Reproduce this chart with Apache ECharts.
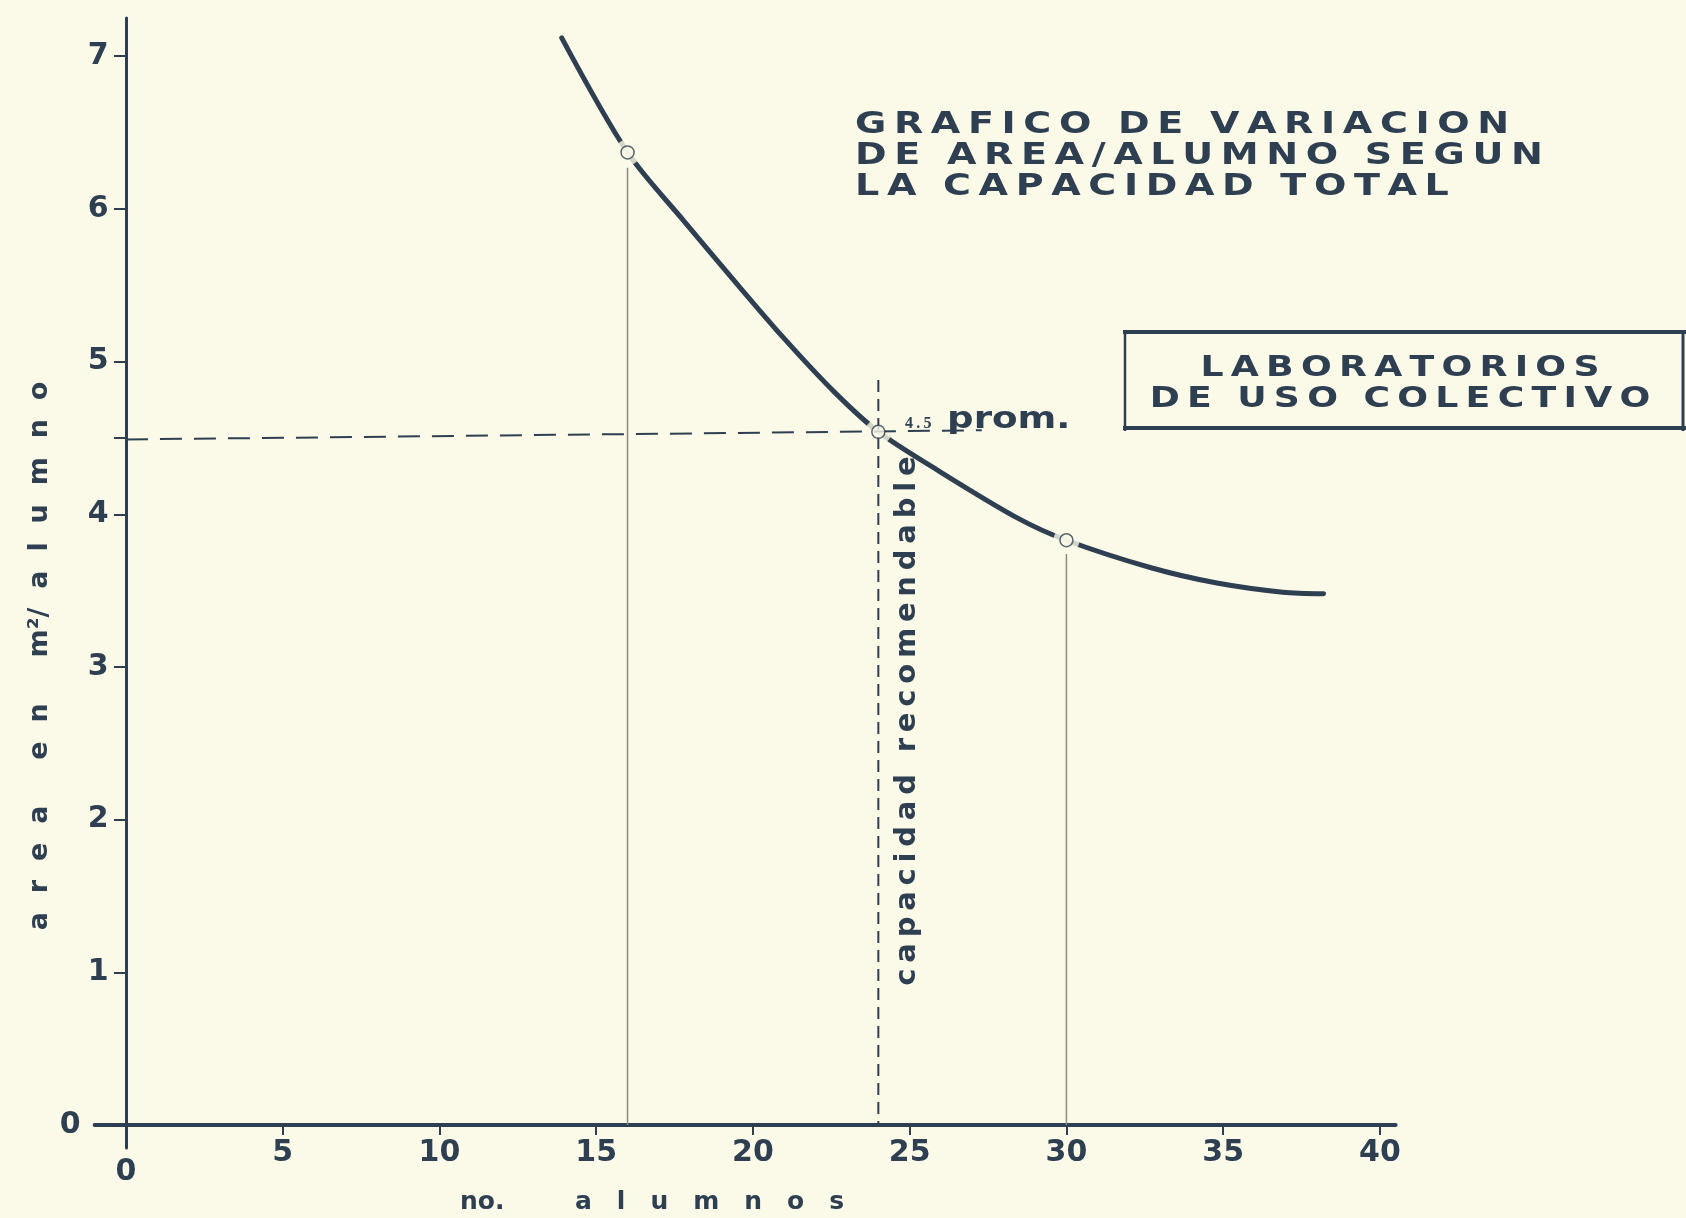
<!DOCTYPE html>
<html><head><meta charset="utf-8">
<script src="https://cdn.jsdelivr.net/npm/echarts@6/dist/echarts.min.js"></script>
<style>html,body{margin:0;padding:0;background:#fbfae9}#c{width:1686px;height:1218px}</style>
</head><body><div id="c"></div>
<script>
// ---- data ----
const curve = [[13.9,7.12],[16,6.37],[17.8,5.92],[19.4,5.53],[21,5.15],[22.6,4.8],[24,4.54],[25.8,4.3],[28.4,3.98],[30,3.83],[32.7,3.65],[34.8,3.55],[36.9,3.49],[38.2,3.48]];
const keyPoints = [[16,6.37],[24,4.54],[30,3.83]];
const vline16 = [[16,6.27],[16,0]];
const vline30 = [[30,3.74],[30,0]];
const recLine = [[24,4.88],[24,0]];
const promLine = [[0,4.49],[27.3,4.55]];
const xTicks = [0,5,10,15,20,25,30,35,40];
const yTicks = [0,1,2,3,4,5,6,7];
const yTickMarks = [0,1,2,3,4,4.5,5,6,7];
const titleLines = ['GRAFICO DE VARIACION','DE AREA/ALUMNO SEGUN','LA CAPACIDAD TOTAL'];
const boxLines = ['LABORATORIOS','DE USO COLECTIVO'];
const yNameWords = [['a','r','e','a'],['e','n'],['m²/','a','l','u','m','n','o']];
const xName1 = 'no.';
const xName2 = 'alumnos';
const recText = 'capacidad recomendable';
const promValue = '4.5';
const promText = 'prom.';

const INK = '#2e3f52';
const BG = '#fbfae9';
const FONT = '"DejaVu Sans", sans-serif';

function spaced(s, gap, wordGap){
  return s.split(' ').map(w => w.split('').join(gap)).join(wordGap);
}

const chart = echarts.init(document.getElementById('c'), null, {renderer:'canvas'});
chart.setOption({
  backgroundColor: BG,
  animation: false,
  grid: {left: 94.6, right: 290.4, top: 18, bottom: 70},
  xAxis: {
    type: 'value', min: -1, max: 40.5,
    splitLine: {show: false},
    axisLine: {onZero: true, lineStyle: {color: INK, width: 4}},
    axisTick: {customValues: xTicks, length: 10, lineStyle: {color: INK, width: 2}},
    axisLabel: {
      customValues: xTicks, margin: -10, color: INK,
      fontFamily: FONT, fontWeight: 'bold', fontSize: 30,
      formatter: v => v === 0 ? '{z|0}' : String(v),
      rich: {z: {padding: [19,0,0,0], color: INK, fontFamily: FONT, fontWeight: 'bold', fontSize: 30}}
    }
  },
  yAxis: {
    type: 'value', min: -0.15, max: 7.25,
    splitLine: {show: false},
    axisLine: {onZero: true, lineStyle: {color: INK, width: 3}},
    axisTick: {customValues: yTickMarks, length: 12, lineStyle: {color: INK, width: 2}},
    axisLabel: {
      customValues: yTicks, margin: -14, color: INK,
      fontFamily: FONT, fontWeight: 'bold', fontSize: 30,
      formatter: v => v === 0 ? '{z|0}' : String(v),
      rich: {z: {padding: [0,28,0,0], color: INK, fontFamily: FONT, fontWeight: 'bold', fontSize: 30}}
    }
  },
  series: [
    {type: 'line', data: curve, smooth: 0.3, symbol: 'none', z: 2,
     lineStyle: {color: INK, width: 5, cap: 'round'}},
    {type: 'scatter', data: keyPoints, symbolSize: 26, z: 3,
     itemStyle: {color: BG}},
    {type: 'line', data: vline16, symbol: 'none', z: 4, lineStyle: {color: '#8a8a86', width: 1.5}},
    {type: 'line', data: vline30, symbol: 'none', z: 4, lineStyle: {color: '#8a8a86', width: 1.5}},
    {type: 'line', data: recLine, symbol: 'none', z: 4, lineStyle: {color: INK, width: 2, type: [12,7]}},
    {type: 'line', data: promLine, symbol: 'none', z: 4, lineStyle: {color: INK, width: 2, type: [22,12]}},
    {type: 'scatter', data: keyPoints, symbolSize: 13, z: 6,
     itemStyle: {color: BG, borderColor: INK, borderWidth: 1.5}}
  ],
  graphic: [
    {type: 'text', x: 855, y: 110, scaleX: 1.27, z: 10,
     style: {text: titleLines.map(l => spaced(l, '\u2009', '\u2009\u2002')).join('\n'),
             font: 'bold 30px ' + FONT, fill: INK, lineHeight: 31, textVerticalAlign: 'top'}},
    {type: 'line', z: 10, shape: {x1: 1123, y1: 332, x2: 1686, y2: 332}, style: {stroke: INK, lineWidth: 4}},
    {type: 'line', z: 10, shape: {x1: 1123, y1: 428, x2: 1686, y2: 428}, style: {stroke: INK, lineWidth: 4}},
    {type: 'line', z: 10, shape: {x1: 1125, y1: 330, x2: 1125, y2: 431}, style: {stroke: INK, lineWidth: 2.5}},
    {type: 'line', z: 10, shape: {x1: 1683, y1: 330, x2: 1683, y2: 431}, style: {stroke: INK, lineWidth: 3}},
    {type: 'text', x: 1400, y: 353, scaleX: 1.25, z: 10,
     style: {text: boxLines.map(l => spaced(l, '\u2009', '\u2009\u2002')).join('\n'),
             font: 'bold 29px ' + FONT, fill: INK, lineHeight: 31, textAlign: 'center', textVerticalAlign: 'top'}},
    {type: 'text', x: 905, y: 424, z: 10,
     style: {text: spaced(promValue, '\u2009', ' '), font: 'bold 16px "Liberation Serif", serif', fill: INK, textVerticalAlign: 'middle'}},
    {type: 'text', x: 947, y: 420, scaleX: 1.2, z: 10,
     style: {text: promText, font: 'bold 31px ' + FONT, fill: INK, textVerticalAlign: 'middle'}},
    {type: 'text', x: 907, y: 721, rotation: Math.PI/2, z: 10,
     style: {text: spaced(recText, '\u2009', '\u2009 \u2009'), font: 'bold 29px ' + FONT, fill: INK,
             textAlign: 'center', textVerticalAlign: 'middle'}},
    {type: 'text', x: 40, y: 656, rotation: Math.PI/2, z: 10,
     style: {text: yNameWords.map(w => w.join('\u2002\u2009')).join('\u2002\u2009\u2003'), font: 'bold 27px ' + FONT, fill: INK,
             textAlign: 'center', textVerticalAlign: 'middle'}},
    {type: 'text', x: 460, y: 1202, z: 10,
     style: {text: xName1, font: 'bold 25px ' + FONT, fill: INK, textVerticalAlign: 'middle'}},
    {type: 'text', x: 575, y: 1202, z: 10,
     style: {text: spaced(xName2, '\u2003', '\u2003'), font: 'bold 25px ' + FONT, fill: INK, textVerticalAlign: 'middle'}}
  ]
});
</script></body></html>
